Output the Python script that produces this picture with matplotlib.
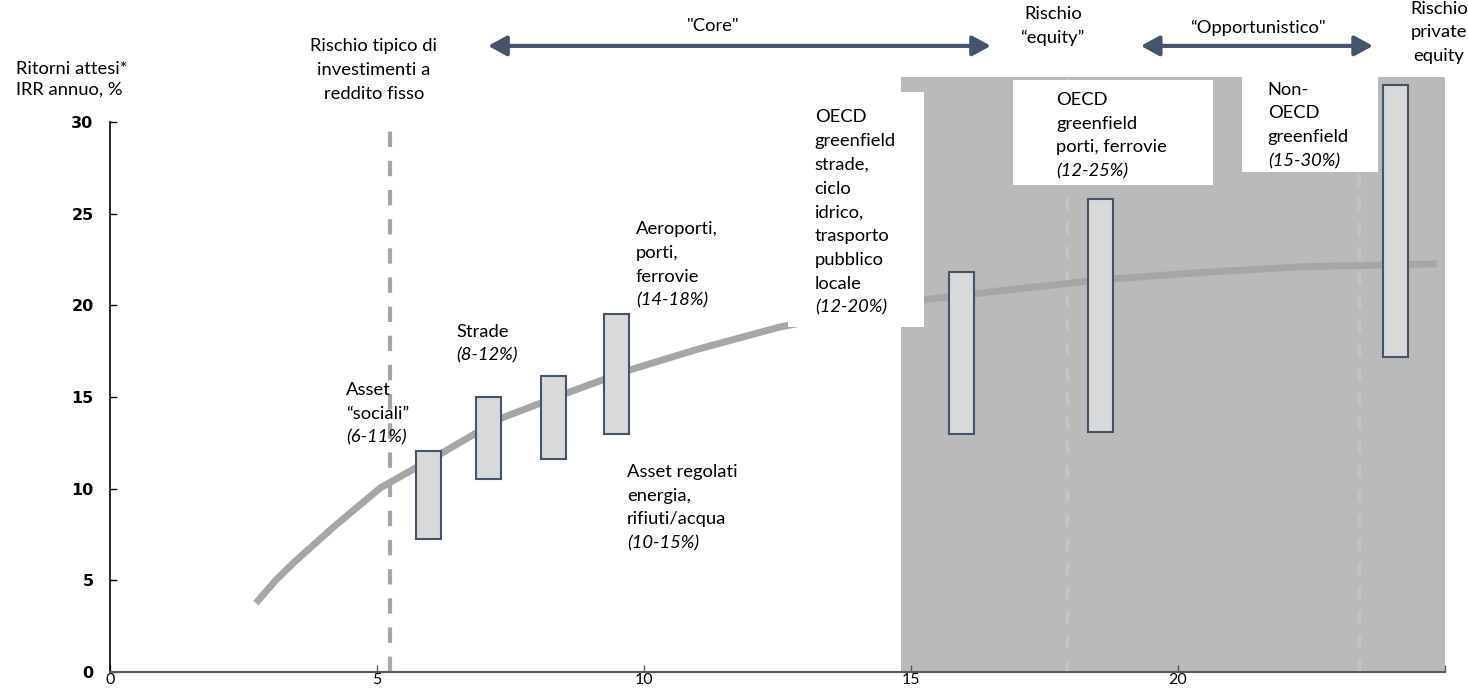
import matplotlib
matplotlib.use("Agg")
import matplotlib.pyplot as plt
from matplotlib.patches import Rectangle

# ---------------- data ----------------
curve_x = [2.73, 3.1, 3.45, 4.2, 5.06, 6.22, 7.34, 8.56, 9.74, 11.0, 12.55, 15.23, 16.3, 18.54, 20.5, 22.3, 24.85]
curve_y = [3.76, 5.0, 6.0, 7.95, 10.04, 11.95, 13.86, 15.22, 16.48, 17.6, 18.82, 20.29, 20.67, 21.39, 21.8, 22.1, 22.26]

bar_x = [5.96, 7.08, 8.31, 9.49, 15.95, 18.55, 24.08]
bar_low = [7.26, 10.5, 11.6, 13.0, 13.0, 13.1, 17.2]
bar_high = [12.06, 15.0, 16.15, 19.5, 21.8, 25.8, 32.0]

fixed_income_x = 5.25
shade_range = (14.82, 25.0)
shade_top = 32.48
shade_dash_x = [17.93, 23.39]

xticks = [0, 5, 10, 15, 20, 25]
xtick_labels = ["0", "5", "10", "15", "20", ""]
yticks = [0, 5, 10, 15, 20, 25, 30]
ytick_labels = ["0", "5", "10", "15", "20", "25", "30"]

core_range = (7.08, 16.5)
opp_range = (19.31, 23.66)

# white label boxes: (x0, x1, y0, y1)
white_boxes = [(12.7, 15.25, 18.82, 31.66),
               (16.91, 20.66, 26.57, 32.3),
               (21.2, 23.75, 27.29, 32.48)]

# labels: (x, y_center, lines, italic_last, ha)
labels = [
    (4.42, 14.18, ["Asset", "\u201csociali\u201d", "(6-11%)"], True, "left"),
    (6.48, 18.0, ["Strade", "(8-12%)"], True, "left"),
    (9.85, 22.3, ["Aeroporti,", "porti,", "ferrovie", "(14-18%)"], True, "left"),
    (9.68, 9.06, ["Asset regolati", "energia,", "rifiuti/acqua", "(10-15%)"], True, "left"),
    (13.2, 25.15, ["OECD", "greenfield", "strade,", "ciclo", "idrico,", "trasporto",
                   "pubblico", "locale", "(12-20%)"], True, "left"),
    (17.72, 29.35, ["OECD", "greenfield", "porti, ferrovie", "(12-25%)"], True, "left"),
    (21.69, 29.9, ["Non-", "OECD", "greenfield", "(15-30%)"], True, "left"),
    (4.94, 32.92, ["Rischio tipico di", "investimenti a", "reddito fisso"], False, "center"),
    (11.3, 35.3, ['"Core"'], False, "center"),
    (17.66, 35.3, ["Rischio", "\u201cequity\u201d"], False, "center"),
    (21.5, 35.2, ['\u201cOpportunistico"'], False, "center"),
    (24.9, 34.97, ["Rischio", "private", "equity"], False, "center"),
]

# ---------------- style ----------------
FONT = "Lato"
FS = 13.2
LH = 17.1
ARROW_C = "#44546A"

fig = plt.figure(figsize=(14.68, 6.89), dpi=100)
ax = fig.add_axes([0.0751, 0.02467, 0.9089, 0.7983])
ax.set_xlim(0, 25)
ax.set_ylim(0, 30)

# shaded zone
ax.add_patch(Rectangle((shade_range[0], 0), shade_range[1] - shade_range[0], shade_top,
                       facecolor="#BABABA", edgecolor="none", zorder=0.5, clip_on=False))
for xd in shade_dash_x:
    ax.plot([xd, xd], [0, shade_top], color="#C4C4C4", lw=2.5,
            linestyle=(0, (3.7, 3.3)), zorder=0.8, clip_on=False)

# fixed-income dashed line
ax.plot([fixed_income_x, fixed_income_x], [0, 29.68], color="#A6A6A6", lw=3,
        linestyle=(0, (3.7, 3.3)), zorder=1)

# curve
ax.plot(curve_x, curve_y, color="#A6A6A6", lw=5, solid_capstyle="butt",
        solid_joinstyle="round", zorder=2)

# white boxes
for x0, x1, y0, y1 in white_boxes:
    ax.add_patch(Rectangle((x0, y0), x1 - x0, y1 - y0, facecolor="white",
                           edgecolor="none", zorder=3, clip_on=False))

# bars
bw = 0.47
for xc, lo, hi in zip(bar_x, bar_low, bar_high):
    ax.add_patch(Rectangle((xc - bw / 2, lo), bw, hi - lo, facecolor="#D9D9D9",
                           edgecolor=ARROW_C, lw=1.5, zorder=5, clip_on=False))

# arrows
for (a, b) in (core_range, opp_range):
    ax.annotate("", xy=(b, 34.15), xytext=(a, 34.15), xycoords="data",
                arrowprops=dict(arrowstyle="<|-|>,head_length=0.55,head_width=0.3",
                                color=ARROW_C, lw=3, mutation_scale=20,
                                shrinkA=0, shrinkB=0),
                annotation_clip=False, zorder=6)

# labels
for x, yc, lines, it_last, ha in labels:
    n = len(lines)
    for i, line in enumerate(lines):
        off = ((n - 1) / 2 - i) * LH
        style = "italic" if (it_last and i == n - 1) else "normal"
        ax.annotate(line, xy=(x, yc), xycoords="data", xytext=(0, off),
                    textcoords="offset points", ha=ha, va="center_baseline",
                    fontsize=FS, family=FONT, fontstyle=style, color="black",
                    annotation_clip=False, zorder=7)

fig.text(16 / 1468, 1 - 67 / 689, "Ritorni attesi*", ha="left", va="center_baseline",
         fontsize=FS, family=FONT)
fig.text(16 / 1468, 1 - 88 / 689, "IRR annuo, %", ha="left", va="center_baseline",
         fontsize=FS, family=FONT)

# axes styling
for s in ("top", "right"):
    ax.spines[s].set_visible(False)
ax.spines["left"].set_color("black")
ax.spines["left"].set_linewidth(1.2)
ax.spines["bottom"].set_color("#595959")
ax.spines["bottom"].set_linewidth(1.5)
ax.spines["left"].set_zorder(8)
ax.spines["bottom"].set_zorder(8)

ax.set_xticks(xticks)
ax.set_xticklabels(xtick_labels, family=FONT, fontsize=11.5)
ax.set_yticks(yticks)
ax.set_yticklabels(ytick_labels, family="DejaVu Sans", fontsize=11.5, fontweight="bold")
ax.tick_params(axis="x", direction="in", length=5, width=1, color="#595959", pad=1)
ax.tick_params(axis="y", direction="in", length=5, width=1, color="black", pad=12)

fig.savefig("out.png", dpi=100)
